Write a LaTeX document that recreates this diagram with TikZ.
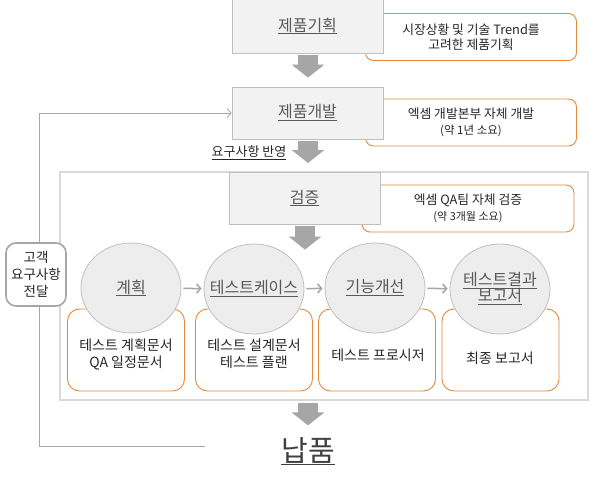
\documentclass[tikz,border=0pt]{standalone}
\usepackage{fontspec}
\setmainfont{Noto Sans CJK KR}
\usetikzlibrary{arrows.meta,calc,shapes.geometric}
\definecolor{boxfill}{HTML}{F2F2F2}
\definecolor{boxline}{HTML}{BFBFBF}
\definecolor{orng}{HTML}{E58A3C}
\definecolor{fatgray}{HTML}{A6A6A6}
\definecolor{framegray}{HTML}{D9D9D9}
\definecolor{ttl}{HTML}{595959}
\definecolor{txt}{HTML}{262626}
\definecolor{circfill}{HTML}{EDEDED}
\begin{document}
\begin{tikzpicture}[x=1pt,y=-1pt,
  stagebox/.style={draw=boxline, fill=boxfill, line width=0.8pt, minimum width=151pt, minimum height=52pt, inner sep=0pt, text=ttl, font=\fontsize{16}{18}\selectfont},
  note/.style={draw=orng, line width=0.9pt, rounded corners=8pt, fill=white, minimum width=211pt, minimum height=47pt, align=center, text=txt, inner sep=0pt, font=\fontsize{12.8}{15.5}\selectfont},
  docbox/.style={draw=orng, line width=0.9pt, rounded corners=12pt, fill=white, minimum width=117pt, minimum height=82pt, inner sep=0pt},
  doctext/.style={align=center, text=txt, font=\fontsize{14}{17}\selectfont, inner sep=0pt},
  stepcirc/.style={ellipse, draw=boxline, fill=circfill, line width=0.8pt, minimum width=100pt, minimum height=90pt, inner sep=0pt},
  circtext/.style={align=center, text=ttl, font=\fontsize{16}{17}\selectfont, inner sep=0pt},
  fatarrow/.style={draw=fatgray, line width=20pt, -{Triangle[width=32pt,length=13pt]}},
  thinarrow/.style={draw=fatgray, line width=1.5pt, -{Straight Barb[length=4pt,width=9pt]}, shorten <=2pt, shorten >=2pt},
  fbline/.style={draw=fatgray, line width=0.8pt}
]
\useasboundingbox (0,0) rectangle (591,484);
\fill[white] (0,0) rectangle (591,484);

% outer frame
\node[draw=framegray, line width=2pt, minimum width=528pt, minimum height=228pt, inner sep=0pt] (frame) at (324,286) {};

% feedback loop
\coordinate (fbA) at (205,446);
\coordinate (fbB) at (39,446);
\coordinate (fbC) at (39,113);

% notes and stage boxes
\node[note] (n1) at (471,37) {시장상황 및 기술 Trend를\\고려한 제품기획};
\node[note] (n2) at (471,122.5) {엑셈 개발본부 자체 개발\\{\fontsize{11.5}{15.5}\selectfont (약 1년 소요)}};
\node[note, minimum width=212pt] (n3) at (468,208.5) {엑셈 QA팀 자체 검증\\{\fontsize{11}{15.5}\selectfont (약 3개월 소요)}};

\node[stagebox, minimum height=54pt] (b1) at (307.5,26) {\underline{제품기획}};
\node[stagebox] (b2) at (307.5,113) {\underline{제품개발}};
\node[stagebox] (b3) at (304.5,198) {\underline{검증}};

\draw[fbline] (fbA) -- (fbB) -- (fbC);
\draw[fbline, -{Straight Barb[length=4pt,width=9pt]}] (fbC) -- (b2.west);

\node[draw=fatgray, line width=1.6pt, rounded corners=10pt, fill=white, minimum width=60pt, minimum height=63pt, inner sep=0pt, align=center, text=txt, font=\fontsize{13.5}{17}\selectfont] (cust) at (36,274.5) {고객\\요구사항\\전달};

% doc boxes
\node[docbox] (d1) at (126,350) {};
\node[docbox] (d2) at (254,350) {};
\node[docbox] (d3) at (377,350) {};
\node[docbox] (d4) at (500.5,350) {};
\node[doctext] (t1) at (126,354) {테스트 계획문서\\QA 일정문서};
\node[doctext] (t2) at (254,354) {테스트 설계문서\\테스트 플랜};
\node[doctext] (t3) at (378,355) {테스트 프로시저};
\node[doctext] (t4) at (500,358) {최종 보고서};

% circles
\node[stepcirc] (c1) at (131,288) {};
\node[stepcirc] (c2) at (254,289) {};
\node[stepcirc] (c3) at (375,288) {};
\node[stepcirc] (c4) at (500,289) {};
\node[circtext] (l1) at (c1) {\underline{계획}};
\node[circtext] (l2) at (c2) {\underline{테스트케이스}};
\node[circtext] (l3) at (c3) {\underline{기능개선}};
\node[circtext] (l4) at (c4) {\underline{테스트결과}\\[-1pt]\underline{보고서}};

\draw[thinarrow] (c1) -- (c2);
\draw[thinarrow] (c2) -- (c3);
\draw[thinarrow] (c3) -- (c4);

% label
\node[text=txt, font=\fontsize{13}{15}\selectfont, inner sep=0pt] (req) at (249,153) {\underline{요구사항 반영}};

% final
\node[text=black!75, font=\fontsize{29}{32}\selectfont, inner sep=0pt] (deliv) at (308,451) {\underline{납품}};

% fat arrows
\draw[fatarrow] ($(b1.south)+(0.5,2)$) -- ($(b2.north)+(0.5,-9)$);
\draw[fatarrow] ($(b2.south)+(0.5,2)$) -- ($(b2.south |- frame.north)+(0.5,-8)$);
\draw[fatarrow] ($(b3.south)+(0.5,2)$) -- ($(b3.south |- c1.north)+(0.5,7)$);
\draw[fatarrow] ($(b2.south |- frame.south)+(0.5,2)$) -- ($(b2.south)+(0.5,286)$);
\end{tikzpicture}
\end{document}
